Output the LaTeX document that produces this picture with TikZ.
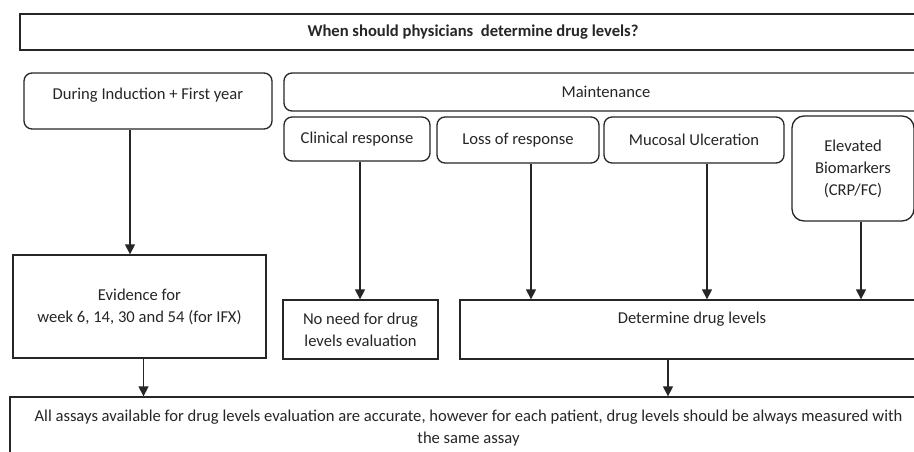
\documentclass[tikz,border=0pt]{standalone}
\usepackage{fontspec}
\setmainfont{Carlito}
\usetikzlibrary{arrows.meta,positioning}
\tikzset{
  box/.style={draw=black!85, rectangle, line width=1.3pt, align=center, inner sep=0pt, text=black!85, font=\fontsize{16.6}{22}\selectfont},
  rbox/.style={box, rounded corners=8pt},
  txt/.style={inner sep=0pt, align=center, text=black!85, font=\fontsize{16.6}{22}\selectfont},
  arr/.style={-{Triangle[length=10pt,width=10pt]}, line width=1.3pt, draw=black!85},
}

\begin{document}
\begin{tikzpicture}[x=1pt, y=-1pt]
\clip (0,0) rectangle (914,452);
\fill[white] (0,0) rectangle (914,452);

\node[box, minimum width=906pt, minimum height=36pt, font=\fontsize{16.6}{22}\selectfont\bfseries] (quest) at (473,32) {When should physicians\ \ determine drug levels?};

\node[rbox, minimum width=248pt, minimum height=56pt] (induct) at (148,101) {};
\node[txt, anchor=base] (inductT) at ([yshift=-27pt]induct.north) {During Induction + First year};
\node[rbox, minimum width=644pt, minimum height=38pt] (maint) at (606,92) {Maintenance};

\node[rbox, minimum width=146pt, minimum height=44pt] (clin) at (357,139) {Clinical response};
\node[rbox, minimum width=162pt, minimum height=46pt] (loss) at (518,140) {Loss of response};
\node[rbox, minimum width=180pt, minimum height=46pt] (mucos) at (694,140) {Mucosal Ulceration};
\node[rbox, rounded corners=12pt, minimum width=122pt, minimum height=105pt] (biom) at (853,168.5) {Elevated\\Biomarkers\\(CRP/FC)};

\node[box, minimum width=253pt, minimum height=103pt] (evid) at (139.5,306.5) {Evidence for\\week 6, 14, 30 and 54 (for IFX)};
\node[box, minimum width=155pt, minimum height=59pt] (noneed) at (360.5,329.5) {No need for drug\\levels evaluation};
\node[box, minimum width=464pt, minimum height=59pt] (determ) at (692,329.5) {};
\node[txt, anchor=base] (determT) at ([yshift=-24pt]determ.north) {Determine drug levels};

\node[box, minimum width=917pt, minimum height=62pt] (assay) at (468.5,428) {All assays available\ for drug levels evaluation are accurate, however for each patient, drug levels should be always measured with\\the same assay};

\draw[arr] ([xshift=-18pt]induct.south) -- ([xshift=-18pt]induct.south |- evid.north);
\draw[arr] ([xshift=3pt]clin.south) -- ([xshift=3pt]clin.south |- noneed.north);
\draw[arr] ([xshift=13pt]loss.south) -- ([xshift=13pt]loss.south |- determ.north);
\draw[arr] ([xshift=13pt]mucos.south) -- ([xshift=13pt]mucos.south |- determ.north);
\draw[arr] ([xshift=8pt]biom.south) -- ([xshift=8pt]biom.south |- determ.north);
\draw[arr] ([xshift=4pt]evid.south) -- ([xshift=4pt]evid.south |- assay.north);
\draw[arr] ([xshift=-24pt]determ.south) -- ([xshift=-24pt]determ.south |- assay.north);

\end{tikzpicture}
\end{document}
